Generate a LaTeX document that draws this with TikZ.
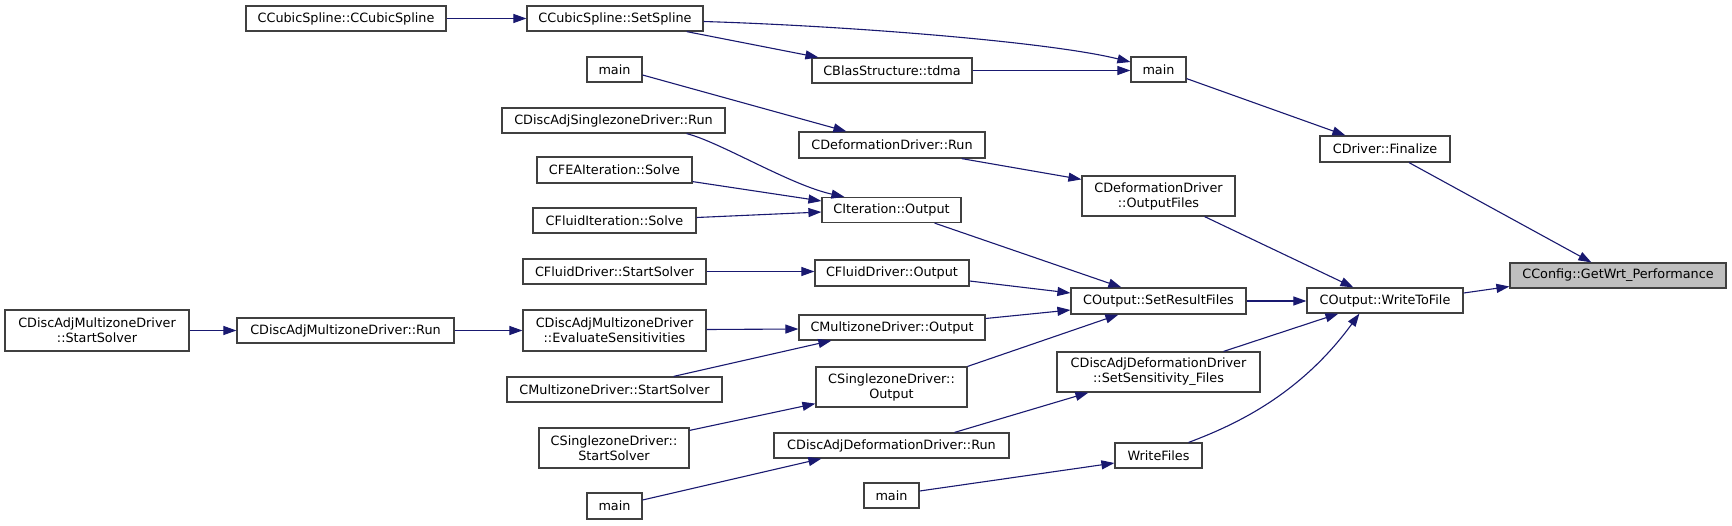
\documentclass[tikz,border=0pt]{standalone}
\usepackage{fontspec}
\setmainfont{DejaVu Sans}
\usetikzlibrary{arrows.meta,calc}
\definecolor{edgeblue}{HTML}{191970}
\definecolor{boxline}{HTML}{404040}
\definecolor{hl}{HTML}{BFBFBF}
\begin{document}
\begin{tikzpicture}[x=1pt,y=-1pt,
  fn/.style={draw=boxline, line width=1.2pt, fill=white, inner sep=0pt, align=center,
             font=\fontsize{12.8}{15}\selectfont},
  call/.style={draw=edgeblue, line width=1.1pt, -{Triangle[length=13pt,width=9pt]}}]
\fill[white] (0,0) rectangle (1732,525);
\useasboundingbox (0,0) rectangle (1732,525);

% column 1
\node[fn, minimum width=184pt, minimum height=41pt] (n18) at (97,330.5) {CDiscAdjMultizoneDriver\\::StartSolver};
% column 2
\node[fn, minimum width=200pt, minimum height=25pt] (n1) at (346,18.5) {CCubicSpline::CCubicSpline};
\node[fn, minimum width=217pt, minimum height=25pt] (n19) at (345.5,330.5) {CDiscAdjMultizoneDriver::Run};
% column 3
\node[fn, minimum width=176pt, minimum height=25pt] (n2) at (615,18.5) {CCubicSpline::SetSpline};
\node[fn, minimum width=55pt, minimum height=25pt] (n3) at (614.5,69.5) {main};
\node[fn, minimum width=223pt, minimum height=25pt] (n7) at (613.5,120.5) {CDiscAdjSinglezoneDriver::Run};
\node[fn, minimum width=155pt, minimum height=26pt] (n9) at (614.5,170) {CFEAIteration::Solve};
\node[fn, minimum width=163pt, minimum height=25pt] (n12) at (614.5,220.5) {CFluidIteration::Solve};
\node[fn, minimum width=183pt, minimum height=25pt] (n13) at (614.5,271.5) {CFluidDriver::StartSolver};
\node[fn, minimum width=183pt, minimum height=41pt] (n20) at (614.5,330.5) {CDiscAdjMultizoneDriver\\::EvaluateSensitivities};
\node[fn, minimum width=215pt, minimum height=25pt] (n22) at (614.5,389.5) {CMultizoneDriver::StartSolver};
\node[fn, minimum width=150pt, minimum height=40pt] (n25) at (614,448) {CSinglezoneDriver::\\StartSolver};
\node[fn, minimum width=55pt, minimum height=26pt] (n28) at (614.5,506) {main};
% column 4
\node[fn, minimum width=160pt, minimum height=25pt] (n4) at (892,70.5) {CBlasStructure::tdma};
\node[fn, minimum width=186pt, minimum height=26pt] (n8) at (892,145) {CDeformationDriver::Run};
\node[fn, minimum width=139pt, minimum height=25pt] (n11) at (891.5,210) {CIteration::Output};
\node[fn, minimum width=154pt, minimum height=26pt] (n14) at (892,273) {CFluidDriver::Output};
\node[fn, minimum width=186pt, minimum height=25pt] (n21) at (892,327.5) {CMultizoneDriver::Output};
\node[fn, minimum width=151pt, minimum height=40pt] (n23) at (891.5,387) {CSinglezoneDriver::\\Output};
\node[fn, minimum width=235pt, minimum height=25pt] (n26) at (891.5,445.5) {CDiscAdjDeformationDriver::Run};
\node[fn, minimum width=55pt, minimum height=25pt] (n29) at (891.5,495.5) {main};
% column 5
\node[fn, minimum width=55pt, minimum height=25pt] (n5) at (1158.5,69.5) {main};
\node[fn, minimum width=153pt, minimum height=40pt] (n10) at (1158.5,196) {CDeformationDriver\\::OutputFiles};
\node[fn, minimum width=175pt, minimum height=26pt] (n15) at (1158.5,301) {COutput::SetResultFiles};
\node[fn, minimum width=203pt, minimum height=40pt] (n24) at (1158.5,372) {CDiscAdjDeformationDriver\\::SetSensitivity\_Files};
\node[fn, minimum width=87pt, minimum height=25pt] (n27) at (1158.5,455.5) {WriteFiles};
% column 6
\node[fn, minimum width=130pt, minimum height=26pt] (n6) at (1385,149) {CDriver::Finalize};
\node[fn, minimum width=156pt, minimum height=25pt] (n16) at (1385,300.5) {COutput::WriteToFile};
% column 7
\node[fn, fill=hl, minimum width=216pt, minimum height=25pt] (n17) at (1618,275.5) {CConfig::GetWrt\_Performance};

% edges
\draw[call] (n1.east) -- (n2.west);
\draw[call] ($(n2.south east)+(-17,0)$) -- ($(n4.north west)+(7,0)$);
\draw[call] ($(n2.east)+(0,3)$) .. controls (850,26) and (1050,42) .. ($(n5.west)+(0,-7.5)$);
\draw[call] (n4.east) -- (n4.east -| n5.west);
\draw[call] ($(n5.south east)+(0,-4)$) -- ($(n6.north west)+(26,0)$);
\draw[call] ($(n6.south)+(24,0)$) -- ($(n17.north west)+(82,0)$);
\draw[call] ($(n3.east)+(0,5.5)$) -- ($(n8.north west)+(48,0)$);
\draw[call] ($(n8.south east)+(-24,0)$) -- ($(n10.north west)+(0,4)$);
\draw[call] ($(n10.south east)+(-31,0)$) -- ($(n16.north west)+(47,0)$);
\draw[call] ($(n7.south east)+(-39,0)$) .. controls (720,142) and (790,185) .. ($(n11.north west)+(23,0)$);
\draw[call] ($(n9.south east)+(0,-2)$) -- ($(n11.west)+(0,-9)$);
\draw[call] ($(n12.east)+(0,-3)$) -- ($(n11.west)+(0,2)$);
\draw[call] ($(n11.south east)+(-27,0)$) -- ($(n15.north west)+(51,0)$);
\draw[call] (n13.east) -- (n13.east -| n14.west);
\draw[call] ($(n14.east)+(0,8)$) -- ($(n15.west)+(0,-8)$);
\draw[call] ($(n21.east)+(0,-9)$) -- ($(n15.west)+(0,9)$);
\draw[call] (n23.north east) -- ($(n15.south west)+(48,0)$);
\draw[call] (n15.east) -- (n15.east -| n16.west);
\draw[call] ($(n16.east)+(0,-7.5)$) -- ($(n17.west)+(0,11)$);
\draw[call] ($(n24.north east)+(-37,0)$) -- ($(n16.south west)+(32,0)$);
\draw[call] ($(n27.north east)+(-14,0)$) .. controls (1235,425) and (1300,395) .. ($(n16.south west)+(53,0)$);
\draw[call] (n18.east) -- (n19.west);
\draw[call] (n19.east) -- (n20.west);
\draw[call] ($(n20.east)+(0,-1)$) -- ($(n21.west)+(0,1.5)$);
\draw[call] ($(n22.north east)+(-49,0)$) -- ($(n21.south west)+(33,0)$);
\draw[call] ($(n25.north east)+(0,3)$) -- ($(n23.south west)+(0,-4)$);
\draw[call] ($(n26.north east)+(-55,0)$) -- ($(n24.south west)+(32,0)$);
\draw[call] ($(n28.east)+(0,-6)$) -- ($(n26.south west)+(48,0)$);
\draw[call] ($(n29.east)+(0,-4.5)$) -- ($(n27.west)+(0,7.5)$);
\end{tikzpicture}
\end{document}
